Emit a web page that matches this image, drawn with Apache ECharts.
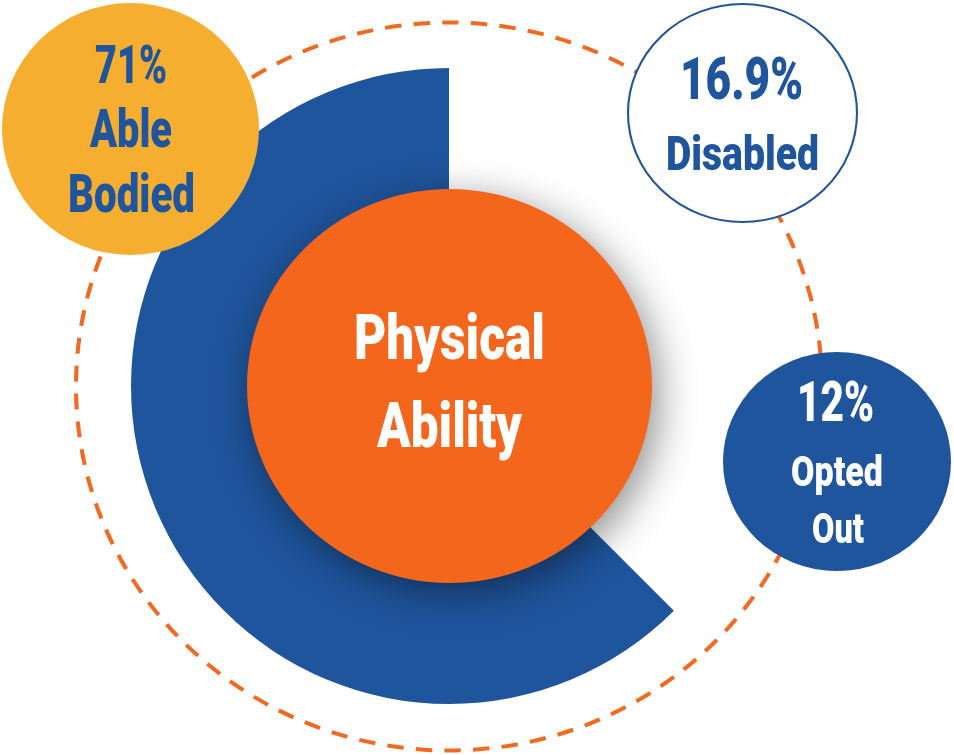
<!DOCTYPE html>
<html>
<head>
<meta charset="utf-8">
<script src="https://cdn.jsdelivr.net/npm/echarts@6/dist/echarts.min.js"></script>
<style>
  html, body { margin: 0; padding: 0; background: #ffffff; }
  #chart { width: 954px; height: 755px; }
</style>
</head>
<body>
<div id="chart"></div>
<script>
// ---------------- data ----------------
const categories = ['Able Bodied', 'Disabled', 'Opted Out'];
const shares = [71, 16.9, 12];
const centerTitle = ['Physical', 'Ability'];
// share of the full circle covered by the blue arc, as drawn (arc vs. empty gap)
const arcSpan = [62.5, 37.5];

// ---------------- style ----------------
const BLUE = '#1F559D';
const ORANGE = '#F3661C';
const YELLOW = '#F5AE2F';
const FONT = 'Roboto, "Noto Sans", sans-serif';
const WEIGHT = '900';

const measureCtx = document.createElement('canvas').getContext('2d');
function fitScale(text, size, targetW) {
  measureCtx.font = WEIGHT + ' ' + size + 'px ' + FONT;
  const w = measureCtx.measureText(text).width;
  return w > 0 ? targetW / w : 1;
}
function baseShift(size) { return size * 0.088; }

// bubble layout (one per category)
const bubbles = [
  { cx: 130.5, cy: 129, rx: 128.5, ry: 126, fill: YELLOW, stroke: null, text: BLUE,
    lines: [ { size: 53, y: 65.5, w: 72, dx: 0.5 }, { size: 53, y: 129, w: 82, dx: 0.5 }, { size: 53, y: 194, w: 127, dx: 1 } ] },
  { cx: 742.5, cy: 113, rx: 114.5, ry: 109, fill: '#ffffff', stroke: BLUE, text: BLUE,
    lines: [ { size: 59, y: 79, w: 123, dx: -1 }, { size: 48, y: 154, w: 153, dx: 0 } ] },
  { cx: 837, cy: 461.5, rx: 114, ry: 109.5, fill: BLUE, stroke: null, text: '#ffffff',
    lines: [ { size: 55, y: 402.5, w: 77, dx: -1.5 }, { size: 43, y: 471.5, w: 92, dx: 0 }, { size: 43, y: 528, w: 52, dx: 1 } ] }
];

const centerLayout = { cx: 449.5, cy: 386, rx: 202.5, ry: 197,
  lines: [ { size: 63, y: 337.5, w: 191 }, { size: 63, y: 425.5, w: 145 } ] };

const graphics = [];

// dashed outer ring
graphics.push({
  type: 'circle', z: 0, silent: true,
  x: 449, y: 386.5, scaleX: 373 / 364, scaleY: 1,
  shape: { cx: 0, cy: 0, r: 364 },
  style: { fill: 'none', stroke: '#F26A21', lineWidth: 4, lineDash: [16, 12], strokeNoScale: true }
});

// centre disk with shadow
graphics.push({
  type: 'circle', z: 20, silent: true,
  x: centerLayout.cx, y: centerLayout.cy, scaleX: centerLayout.rx / centerLayout.ry, scaleY: 1,
  shape: { cx: 0, cy: 0, r: centerLayout.ry },
  style: { fill: ORANGE, shadowBlur: 40, shadowColor: 'rgba(0,0,0,0.45)', shadowOffsetX: 6, shadowOffsetY: 10 }
});
centerTitle.forEach(function (t, i) {
  const L = centerLayout.lines[i];
  graphics.push({
    type: 'text', z: 30, silent: true,
    x: centerLayout.cx, y: L.y + baseShift(L.size), scaleX: fitScale(t, L.size, L.w), scaleY: 1,
    style: { text: t, fill: '#ffffff', font: WEIGHT + ' ' + L.size + 'px ' + FONT, align: 'center', verticalAlign: 'middle' }
  });
});

// category bubbles
categories.forEach(function (cat, i) {
  const b = bubbles[i];
  graphics.push({
    type: 'circle', z: 40, silent: true,
    x: b.cx, y: b.cy, scaleX: b.rx / b.ry, scaleY: 1,
    shape: { cx: 0, cy: 0, r: b.ry },
    style: b.stroke ? { fill: b.fill, stroke: b.stroke, lineWidth: 2, strokeNoScale: true } : { fill: b.fill }
  });
  const lines = [shares[i] + '%'].concat(cat.split(' '));
  lines.forEach(function (t, j) {
    const L = b.lines[j];
    graphics.push({
      type: 'text', z: 50, silent: true,
      x: b.cx + (L.dx || 0), y: L.y + baseShift(L.size), scaleX: fitScale(t, L.size, L.w), scaleY: 1,
      style: { text: t, fill: b.text, font: WEIGHT + ' ' + L.size + 'px ' + FONT, align: 'center', verticalAlign: 'middle' }
    });
  });
});

const chart = echarts.init(document.getElementById('chart'), null, { renderer: 'canvas' });
chart.setOption({
  animation: false,
  backgroundColor: '#ffffff',
  series: [{
    type: 'pie',
    z: 5,
    silent: true,
    center: [449, 386],
    radius: [0, 318],
    startAngle: 90,
    clockwise: false,
    label: { show: false },
    labelLine: { show: false },
    emphasis: { disabled: true },
    data: [
      { value: arcSpan[0], name: 'arc', itemStyle: { color: BLUE } },
      { value: arcSpan[1], name: 'gap', itemStyle: { color: 'rgba(0,0,0,0)' } }
    ]
  }],
  graphic: { elements: graphics }
});
</script>
</body>
</html>
